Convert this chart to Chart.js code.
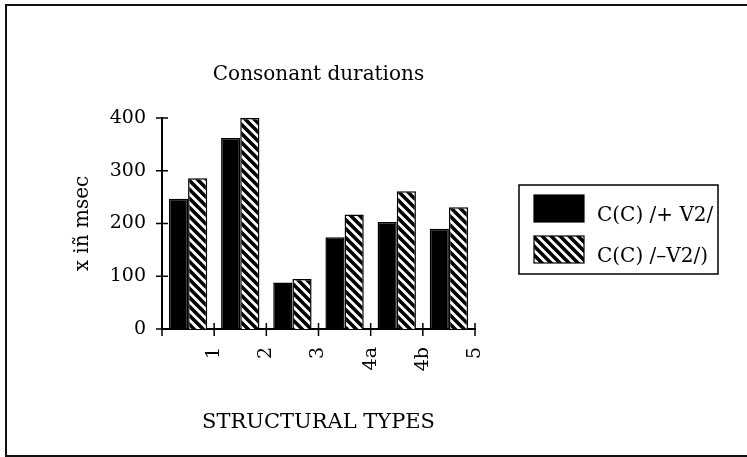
<!DOCTYPE html>
<html>
<head>
<meta charset="utf-8">
<title>Consonant durations</title>
<script src="https://cdn.jsdelivr.net/npm/chart.js@4/dist/chart.umd.min.js"></script>
<style>
  html, body { margin: 0; padding: 0; background: #fff; }
  #wrap { position: relative; width: 747px; height: 457px; overflow: hidden; }
  #frame { position: absolute; left: 5px; top: 4px; width: 800px; height: 449px; border: 2px solid #111; pointer-events: none; }
  canvas { position: absolute; left: 0; top: 0; }
</style>
</head>
<body>
<div id="wrap">
  <canvas id="durations" width="747" height="457"></canvas>
  <div id="frame"></div>
</div>
<script>
// data
const types = ["1", "2", "3", "4a", "4b", "5"];
const plusV2 = [247, 362, 88, 174, 203, 190];
const minusV2 = [286, 400, 95, 217, 261, 231];
const seriesNames = ["C(C) /+ V2/", "C(C) /\u2013V2/)"];
const yTicks = [0, 100, 200, 300, 400];

const serif = "'DejaVu Serif', 'Liberation Serif', serif";

// diagonal hatch fill
function hatch() {
  const c = document.createElement("canvas");
  c.width = 9;
  c.height = 9;
  const g = c.getContext("2d");
  g.fillStyle = "#fff";
  g.fillRect(0, 0, 9, 9);
  g.strokeStyle = "#000";
  g.lineWidth = 3.6;
  g.beginPath();
  g.moveTo(-2, -2); g.lineTo(11, 11);
  g.moveTo(-2, 7); g.lineTo(4, 13);
  g.moveTo(7, -2); g.lineTo(13, 4);
  g.stroke();
  return g.createPattern(c, "repeat");
}

// small ticks crossing both axes
const crossTicks = {
  id: "crossTicks",
  afterDatasetsDraw(chart) {
    const ctx = chart.ctx;
    const x = chart.scales.x;
    const y = chart.scales.y;
    ctx.save();
    ctx.strokeStyle = "#000";
    ctx.lineWidth = 1.5;
    ctx.beginPath();
    yTicks.forEach(v => {
      const py = y.getPixelForValue(v);
      ctx.moveTo(x.left - 6, py);
      ctx.lineTo(x.left + 6, py);
    });
    const step = (x.right - x.left) / types.length;
    for (let i = 0; i <= types.length; i++) {
      const px = x.left + i * step;
      ctx.moveTo(px, y.bottom - 6);
      ctx.lineTo(px, y.bottom + 7);
    }
    ctx.stroke();
    ctx.restore();
  }
};

// boxed legend to the right of the plot
const boxLegend = {
  id: "boxLegend",
  afterDraw(chart) {
    const ctx = chart.ctx;
    ctx.save();
    ctx.strokeStyle = "#000";
    ctx.lineWidth = 1.5;
    ctx.strokeRect(519, 185, 199, 89);
    ctx.font = "20px " + serif;
    ctx.textBaseline = "alphabetic";
    ctx.textAlign = "left";
    chart.data.datasets.forEach((ds, i) => {
      const top = 195 + i * 41;
      ctx.fillStyle = ds.backgroundColor;
      ctx.fillRect(534, top, 50, 27);
      ctx.lineWidth = 1.2;
      ctx.strokeRect(534, top, 50, 27);
      ctx.fillStyle = "#000";
      ctx.fillText(ds.label, 597, top + 26);
    });
    ctx.restore();
  }
};

document.addEventListener("DOMContentLoaded", () => {
  const el = document.getElementById("durations");
  new Chart(el, {
    type: "bar",
    data: {
      labels: types,
      datasets: [{
        label: seriesNames[0],
        data: plusV2,
        backgroundColor: "#000",
        borderColor: "#000",
        borderWidth: 1.5,
        barPercentage: 1,
        categoryPercentage: 0.735
      }, {
        label: seriesNames[1],
        data: minusV2,
        backgroundColor: hatch(),
        borderColor: "#000",
        borderWidth: 1.5,
        barPercentage: 1,
        categoryPercentage: 0.735
      }]
    },
    options: {
      responsive: false,
      animation: false,
      devicePixelRatio: 1,
      layout: { padding: { left: 0, top: 0, right: 272, bottom: 0 } },
      plugins: {
        legend: { display: false },
        tooltip: { enabled: false },
        title: {
          display: true,
          fullSize: false,
          text: "Consonant durations",
          color: "#000",
          font: { family: serif, size: 20, weight: "normal", lineHeight: 1.2 },
          padding: { top: 63, bottom: 31 }
        }
      },
      scales: {
        x: {
          offset: true,
          grid: { display: false, drawTicks: false },
          border: { display: true, color: "#000", width: 2 },
          ticks: {
            color: "#000",
            font: { family: serif, size: 19 },
            minRotation: 90,
            maxRotation: 90,
            labelOffset: 26,
            padding: 18
          },
          title: {
            display: true,
            text: "STRUCTURAL TYPES",
            color: "#000",
            font: { family: serif, size: 21, lineHeight: 1.2 },
            padding: { top: 0, bottom: 22 }
          },
          afterFit(scale) { scale.height = 128; }
        },
        y: {
          min: 0,
          max: 400,
          grid: { display: false, drawTicks: false },
          border: { display: true, color: "#000", width: 2 },
          ticks: {
            stepSize: 100,
            color: "#000",
            font: { family: serif, size: 19 },
            padding: 16
          },
          title: {
            display: true,
            text: "x i\u00f1 msec",
            color: "#000",
            font: { family: serif, size: 20, lineHeight: 1.2 },
            padding: { top: 71, bottom: 0 }
          },
          afterFit(scale) { scale.width = 162; }
        }
      }
    },
    plugins: [crossTicks, boxLegend]
  });
});
</script>
</body>
</html>
